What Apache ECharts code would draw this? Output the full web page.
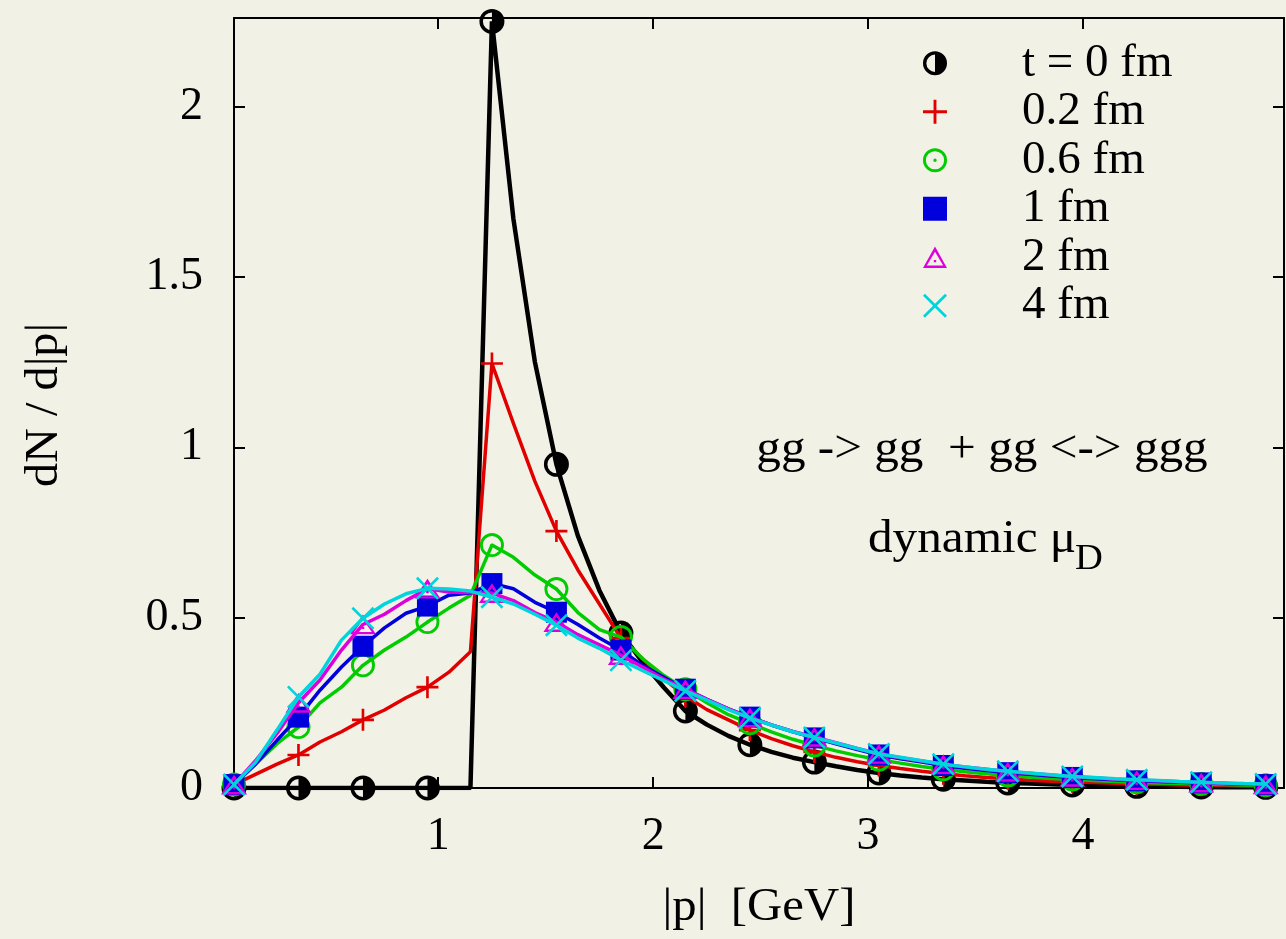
<!DOCTYPE html>
<html>
<head>
<meta charset="utf-8">
<script src="https://cdn.jsdelivr.net/npm/echarts@6.0.0/dist/echarts.min.js"></script>
<style>
html,body{margin:0;padding:0;background:#f2f1e6;}
#c{width:1286px;height:939px;}
</style>
</head>
<body>
<div id="c"></div>
<script>
// ---- data ----
const seriesNames = ['t = 0 fm', '0.2 fm', '0.6 fm', '1 fm', '2 fm', '4 fm'];
const xTickLabels = [1, 2, 3, 4];
const yTickLabels = [0, 0.5, 1, 1.5, 2];

const xLine = [0.05,0.15,0.25,0.35,0.45,0.55,0.65,0.75,0.85,0.95,1.05,1.15,1.25,1.35,1.45,1.55,1.65,1.75,1.85,1.95,2.05,2.15,2.25,2.35,2.45,2.55,2.65,2.75,2.85,2.95,3.05,3.15,3.25,3.35,3.45,3.55,3.65,3.75,3.85,3.95,4.05,4.15,4.25,4.35,4.45,4.55,4.65,4.75,4.85];
const xMark = [0.05,0.35,0.65,0.95,1.25,1.55,1.85,2.15,2.45,2.75,3.05,3.35,3.65,3.95,4.25,4.55,4.85];

const lineT0   = [0,0,0,0,0,0,0,0,0,0,0,0,2.25,1.67,1.25,0.95,0.74,0.58,0.455,0.37,0.295,0.226,0.186,0.153,0.127,0.106,0.089,0.076,0.064,0.053,0.044,0.037,0.031,0.026,0.022,0.018,0.015,0.013,0.011,0.009,0.008,0.006,0.005,0.004,0.0035,0.003,0.0025,0.002,0.002];
const lineT02  = [0.01,0.04,0.07,0.097,0.135,0.165,0.2,0.229,0.265,0.296,0.34,0.40,1.246,1.07,0.90,0.754,0.64,0.54,0.44,0.38,0.32,0.27,0.23,0.20,0.17,0.145,0.124,0.106,0.09,0.077,0.066,0.057,0.049,0.042,0.036,0.031,0.027,0.023,0.02,0.018,0.016,0.014,0.012,0.011,0.009,0.008,0.007,0.006,0.005];
const lineT06  = [0.01,0.07,0.13,0.179,0.25,0.296,0.36,0.405,0.443,0.487,0.528,0.566,0.713,0.677,0.625,0.584,0.515,0.465,0.443,0.38,0.33,0.29,0.25,0.215,0.19,0.165,0.143,0.125,0.109,0.095,0.083,0.073,0.063,0.055,0.048,0.042,0.037,0.032,0.028,0.025,0.022,0.019,0.017,0.015,0.013,0.012,0.010,0.009,0.008];
const lineT1   = [0.01,0.07,0.14,0.208,0.287,0.355,0.416,0.47,0.513,0.534,0.566,0.572,0.60,0.585,0.545,0.516,0.48,0.44,0.405,0.36,0.325,0.29,0.26,0.232,0.208,0.185,0.165,0.147,0.13,0.113,0.097,0.086,0.076,0.066,0.058,0.051,0.045,0.040,0.035,0.031,0.027,0.024,0.021,0.019,0.017,0.015,0.013,0.011,0.010];
const lineT2   = [0.01,0.08,0.16,0.25,0.317,0.405,0.48,0.51,0.55,0.585,0.575,0.573,0.572,0.55,0.515,0.487,0.45,0.42,0.39,0.355,0.32,0.29,0.26,0.232,0.207,0.185,0.166,0.15,0.133,0.116,0.10,0.089,0.079,0.07,0.062,0.055,0.048,0.043,0.038,0.033,0.030,0.026,0.023,0.021,0.018,0.016,0.014,0.012,0.011];
const lineT4   = [0.01,0.075,0.17,0.267,0.334,0.434,0.498,0.54,0.57,0.586,0.584,0.578,0.56,0.54,0.51,0.478,0.44,0.41,0.375,0.345,0.315,0.285,0.258,0.23,0.205,0.185,0.165,0.148,0.132,0.116,0.10,0.09,0.08,0.07,0.062,0.055,0.049,0.044,0.039,0.034,0.031,0.027,0.024,0.022,0.019,0.017,0.015,0.013,0.012];

const markT0  = [0,0,0,0,2.25,0.95,0.455,0.226,0.127,0.076,0.044,0.026,0.015,0.009,0.005,0.003,0.002];
const markT02 = [0.01,0.097,0.2,0.296,1.246,0.754,0.44,0.27,0.17,0.106,0.066,0.042,0.027,0.018,0.012,0.008,0.005];
const markT06 = [0.01,0.179,0.36,0.487,0.713,0.584,0.443,0.29,0.19,0.125,0.083,0.055,0.037,0.025,0.017,0.012,0.008];
const markT1  = [0.01,0.208,0.416,0.534,0.60,0.516,0.405,0.29,0.208,0.147,0.097,0.066,0.045,0.031,0.021,0.015,0.010];
const markT2  = [0.01,0.25,0.48,0.585,0.572,0.487,0.39,0.29,0.207,0.15,0.10,0.07,0.048,0.033,0.023,0.016,0.011];
const markT4  = [0.01,0.267,0.498,0.586,0.56,0.478,0.375,0.285,0.205,0.148,0.10,0.07,0.049,0.034,0.024,0.017,0.012];

// ---- styling ----
const FONT = 'Liberation Serif';
const FS = 46;
const colors = ['#000000', '#e00000', '#00cc00', '#0000dd', '#dd00dd', '#00d4dc'];
const lineWidths = [4.5, 3.5, 3.5, 3.5, 3.5, 3.5];
const symHalf = 'path://M50,0 A50,50 0 1,1 50,100 A50,50 0 1,1 50,0 Z M50,14 A36,36 0 0,0 50,86 L50,14 Z';
const symPlus = 'path://M44,0 L56,0 L56,44 L100,44 L100,56 L56,56 L56,100 L44,100 L44,56 L0,56 L0,44 L44,44 Z';
const symCircDot = 'path://M50,0 A50,50 0 1,1 50,100 A50,50 0 1,1 50,0 Z M50,12 A38,38 0 1,0 50,88 A38,38 0 1,0 50,12 Z M50,43 A7,7 0 1,1 50,57 A7,7 0 1,1 50,43 Z';
const symSquare = 'rect';
const symTriDot = 'path://M50,0 L100,90 L0,90 Z M50,22 L16,79 L84,79 Z M45,56 L55,56 L55,66 L45,66 Z';
const symX = 'path://M0,8 L8,0 L50,42 L92,0 L100,8 L58,50 L100,92 L92,100 L50,58 L8,100 L0,92 L42,50 Z';
const symbols = [symHalf, symPlus, symCircDot, symSquare, symTriDot, symX];
const symSizes = [25, 22, 24, 21, [26, 22], 23];

const lineData = [lineT0, lineT02, lineT06, lineT1, lineT2, lineT4];
const markData = [markT0, markT02, markT06, markT1, markT2, markT4];

const series = [];
for (let k = 0; k < seriesNames.length; k++) {
  series.push({
    name: '_line' + k,
    type: 'line',
    xAxisIndex: 0, yAxisIndex: 0,
    data: xLine.map((x, i) => [x, lineData[k][i]]),
    showSymbol: false, symbol: 'none',
    lineStyle: { color: colors[k], width: lineWidths[k] },
    itemStyle: { color: colors[k] },
    z: 2 + k * 2,
    silent: true
  });
  series.push({
    name: seriesNames[k],
    type: 'scatter',
    xAxisIndex: 0, yAxisIndex: 0,
    data: xMark.map((x, i) => [x, markData[k][i]]),
    symbol: symbols[k],
    symbolSize: symSizes[k],
    symbolKeepAspect: true,
    itemStyle: { color: colors[k], opacity: 1 },
    z: 3 + k * 2,
    silent: true
  });
}

const axisLineStyle = { show: true, lineStyle: { color: '#000', width: 2 } };
const tf = FS + 'px "' + FONT + '"';

const option = {
  animation: false,
  backgroundColor: '#f2f1e6',
  grid: { left: 234, right: 2, top: 18, bottom: 151, containLabel: false },
  xAxis: [
    {
      type: 'value', position: 'bottom', min: 0.05, max: 4.935,
      axisLine: { ...axisLineStyle, onZero: false },
      axisTick: { show: true, inside: true, length: 11, lineStyle: { color: '#000', width: 2 }, customValues: xTickLabels },
      axisLabel: { show: true, customValues: xTickLabels, margin: 26, color: '#000', fontFamily: FONT, fontSize: FS, formatter: v => String(v) },
      splitLine: { show: false }
    },
    {
      type: 'value', position: 'top', min: 0.05, max: 4.935,
      axisLine: { ...axisLineStyle, onZero: false },
      axisTick: { show: true, inside: true, length: 11, lineStyle: { color: '#000', width: 2 }, customValues: xTickLabels },
      axisLabel: { show: false },
      splitLine: { show: false }
    }
  ],
  yAxis: [
    {
      type: 'value', position: 'left', min: 0, max: 2.26,
      axisLine: { ...axisLineStyle, onZero: false },
      axisTick: { show: true, inside: true, length: 11, lineStyle: { color: '#000', width: 2 }, customValues: yTickLabels },
      axisLabel: { show: true, customValues: yTickLabels, margin: 31, color: '#000', fontFamily: FONT, fontSize: FS, formatter: v => String(v) },
      splitLine: { show: false }
    },
    {
      type: 'value', position: 'right', min: 0, max: 2.26,
      axisLine: { ...axisLineStyle, onZero: false },
      axisTick: { show: true, inside: true, length: 11, lineStyle: { color: '#000', width: 2 }, customValues: yTickLabels },
      axisLabel: { show: false },
      splitLine: { show: false }
    }
  ],
  legend: {
    data: seriesNames,
    orient: 'vertical',
    left: 918, top: 34,
    itemWidth: 24, itemHeight: 24,
    itemGap: 0,
    selectedMode: false,
    textStyle: { color: '#000', fontFamily: FONT, fontSize: 47, lineHeight: 48.5, padding: [0, 0, 0, 70] }
  },
  graphic: [
    { type: 'text', x: 45, y: 405, rotation: Math.PI / 2, scaleX: 1.05, style: { text: 'dN / d|p|', font: tf, fill: '#000', align: 'center', verticalAlign: 'middle' } },
    { type: 'text', x: 759, y: 908, scaleX: 1.06, style: { text: '|p|  [GeV]', font: tf, fill: '#000', align: 'center', verticalAlign: 'middle' } },
    { type: 'text', x: 982, y: 450, scaleX: 1.07, style: { text: 'gg -> gg  + gg <-> ggg', font: tf, fill: '#000', align: 'center', verticalAlign: 'middle' } },
    { type: 'text', x: 868, y: 540, scaleX: 1.07, style: { text: 'dynamic \u03bc', font: tf, fill: '#000', align: 'left', verticalAlign: 'middle' } },
    { type: 'text', x: 1075, y: 560, scaleX: 1.07, style: { text: 'D', font: '36px "' + FONT + '"', fill: '#000', align: 'left', verticalAlign: 'middle' } }
  ],
  series: series
};

const chart = echarts.init(document.getElementById('c'), null, { renderer: 'canvas' });
chart.setOption(option);
</script>
</body>
</html>
